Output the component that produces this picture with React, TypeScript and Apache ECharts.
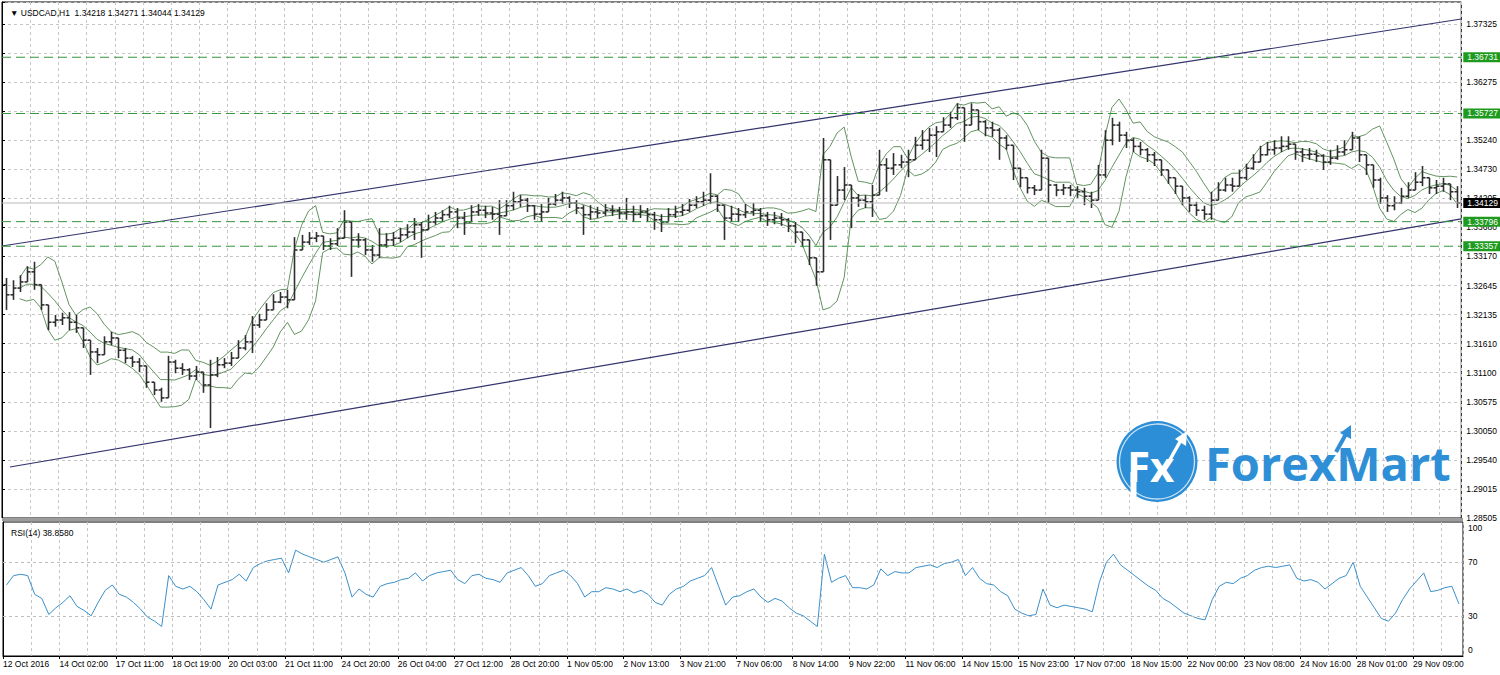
import React, { useEffect, useRef } from 'react';
import * as echarts from 'echarts';

// Prices are stored as pips above 1.3000 (value = 1.3 + pips / 10000), one bar per 4 hours.
const BASE = 1.3;
const PIP = 0.0001;
const FIRST_OPEN = 267;
const CLOSE = [
  249, 261, 272, 290, 267, 231, 200, 204, 208, 200,
  190, 168, 147, 142, 165, 172, 150, 136, 129, 122,
  93, 79, 65, 129, 118, 115, 104, 111, 88, 106,
  124, 127, 136, 154, 165, 195, 204, 222, 236, 245,
  240, 329, 343, 350, 354, 336, 340, 350, 379, 347,
  347, 329, 320, 338, 347, 350, 356, 361, 374, 365,
  379, 386, 392, 397, 386, 379, 397, 400, 395, 393,
  390, 408, 415, 418, 408, 393, 397, 411, 418, 422,
  413, 404, 392, 397, 395, 400, 399, 395, 397, 393,
  397, 392, 383, 379, 392, 397, 400, 409, 415, 418,
  425, 409, 386, 393, 392, 397, 400, 390, 383, 386,
  383, 372, 361, 347, 315, 290, 490, 409, 436, 445,
  422, 418, 415, 427, 481, 475, 481, 486, 490, 516,
  525, 534, 540, 552, 565, 583, 552, 579, 558, 547,
  543, 529, 516, 475, 458, 440, 436, 493, 445, 436,
  440, 436, 433, 425, 418, 463, 525, 552, 534, 525,
  514, 508, 499, 490, 472, 458, 443, 422, 409, 400,
  393, 418, 436, 445, 443, 458, 475, 486, 499, 508,
  511, 514, 518, 504, 499, 500, 497, 486, 493, 504,
  508, 529, 499, 481, 454, 422, 408, 413, 425, 436,
  450, 458, 440, 443, 447, 433, 413,
];
const HIGH = [
  279, 275, 284, 300, 308, 267, 225, 213, 217, 218,
  213, 190, 168, 154, 175, 183, 168, 154, 140, 136,
  115, 93, 83, 140, 133, 127, 118, 122, 111, 133,
  138, 136, 147, 168, 177, 211, 215, 234, 250, 254,
  258, 352, 356, 361, 361, 354, 350, 368, 400, 379,
  359, 350, 338, 368, 359, 361, 368, 375, 386, 379,
  392, 397, 400, 408, 404, 397, 409, 411, 408, 406,
  418, 418, 433, 427, 422, 409, 411, 422, 429, 433,
  425, 418, 409, 409, 406, 411, 409, 406, 422, 408,
  409, 404, 397, 393, 404, 408, 411, 420, 425, 433,
  466, 427, 409, 408, 404, 411, 413, 404, 397, 397,
  395, 386, 379, 361, 341, 308, 529, 458, 461, 477,
  436, 429, 427, 445, 508, 493, 502, 499, 508, 531,
  543, 547, 550, 566, 575, 591, 583, 591, 575, 561,
  558, 547, 534, 516, 475, 454, 445, 508, 481, 447,
  447, 445, 443, 440, 433, 481, 543, 565, 558, 540,
  529, 522, 511, 504, 490, 472, 458, 440, 425, 415,
  408, 433, 450, 458, 458, 472, 483, 500, 515, 522,
  525, 532, 532, 518, 511, 511, 508, 500, 508, 516,
  525, 540, 532, 499, 481, 458, 427, 425, 440, 450,
  468, 479, 458, 454, 458, 447, 443,
];
const LOW = [
  222, 240, 254, 275, 258, 222, 186, 192, 195, 186,
  181, 154, 106, 127, 142, 159, 136, 127, 120, 111,
  83, 70, 58, 65, 109, 106, 97, 97, 74, 11,
  102, 118, 122, 142, 150, 145, 190, 208, 222, 234,
  225, 240, 329, 338, 343, 329, 329, 336, 356, 281,
  333, 320, 308, 315, 333, 336, 343, 350, 347, 315,
  365, 374, 379, 386, 368, 356, 383, 390, 386, 383,
  356, 393, 400, 406, 397, 383, 379, 400, 408, 411,
  404, 393, 356, 383, 386, 390, 390, 384, 383, 379,
  386, 379, 365, 361, 379, 386, 390, 397, 404, 408,
  411, 397, 347, 379, 379, 386, 390, 379, 372, 375,
  372, 361, 341, 334, 302, 265, 290, 347, 409, 418,
  368, 406, 404, 388, 427, 433, 463, 475, 459, 493,
  508, 504, 495, 540, 547, 561, 522, 561, 543, 532,
  531, 490, 508, 454, 441, 430, 427, 454, 413, 425,
  427, 425, 422, 409, 404, 418, 458, 516, 522, 511,
  504, 498, 486, 479, 461, 447, 429, 409, 397, 390,
  383, 383, 422, 433, 433, 443, 454, 472, 486, 498,
  499, 504, 508, 490, 486, 490, 486, 472, 481, 490,
  498, 514, 486, 463, 440, 411, 397, 400, 411, 422,
  436, 443, 429, 429, 433, 418, 404,
];
const RSI = [
  53, 60, 61, 60, 46, 43, 31, 36, 40, 45,
  37, 34, 30, 40, 49, 53, 46, 44, 40, 35,
  29, 26, 22, 60, 52, 50, 52, 48, 42, 35,
  53, 55, 57, 61, 56, 66, 69, 71, 72, 73,
  62, 79, 76, 74, 72, 70, 72, 74, 62, 44,
  50, 46, 44, 52, 54, 55, 57, 58, 62, 56,
  60, 62, 63, 64, 57, 54, 60, 61, 58, 57,
  55, 62, 64, 66, 60, 52, 54, 60, 62, 64,
  60, 54, 44, 48, 48, 51, 50, 48, 50, 47,
  49, 46, 40, 38, 46, 50, 52, 56, 58, 60,
  66, 52, 38, 44, 45, 48, 50, 44, 40, 43,
  41, 36, 32, 30, 26, 22, 76, 55, 58, 60,
  51, 51, 50, 53, 65, 60, 63, 62, 62, 66,
  67, 68, 66, 69, 70, 72, 60, 66, 58, 54,
  53, 48, 45, 35, 32, 30, 31, 50, 38, 36,
  38, 37, 36, 35, 33, 55, 70, 76, 68, 64,
  60, 56, 52, 49, 43, 40, 36, 32, 30, 28,
  27, 42, 52, 55, 54, 58, 60, 64, 66, 67,
  66, 67, 68, 58, 56, 57, 55, 50, 54, 58,
  60, 70, 52, 44, 36, 28, 26, 32, 42, 50,
  56, 62, 48, 49, 51, 52, 38.858,
];
const X_LABELS = [
  '12 Oct 2016', '14 Oct 02:00', '17 Oct 11:00', '18 Oct 19:00', '20 Oct 03:00', '21 Oct 11:00',
  '24 Oct 20:00', '26 Oct 04:00', '27 Oct 12:00', '28 Oct 20:00', '1 Nov 05:00', '2 Nov 13:00',
  '3 Nov 21:00', '7 Nov 06:00', '8 Nov 14:00', '9 Nov 22:00', '11 Nov 06:00', '14 Nov 15:00',
  '15 Nov 23:00', '17 Nov 07:00', '18 Nov 15:00', '22 Nov 00:00', '23 Nov 08:00', '24 Nov 16:00',
  '28 Nov 01:00', '29 Nov 09:00',
];
// Ticks hidden by the level boxes in the reference are left empty.
const Y_LABELS = [
  '1.28505', '1.29015', '1.29540', '1.30050', '1.30575', '1.31100', '1.31610', '1.32135', '1.32645',
  '1.33170', '1.33680', '1.34205', '1.34730', '1.35240', '', '1.36275', '', '1.37325',
];
const RSI_LABELS = [30, 70, 100];
const RSI_MIN_LABEL = '0';
const RSI_LEVELS = [30, 70];
const LEVELS = [1.36731, 1.35727, 1.33796, 1.33357];
const LAST_PRICE = 1.34129;
const CHANNEL_UPPER = [[0, 1.33361], [828.3, 1.37414]];
const CHANNEL_LOWER = [[4.5, 1.29416], [828.3, 1.33844]];
const TITLE = '\u25BC USDCAD,H1  1.34218 1.34271 1.34044 1.34129';
const RSI_TITLE = 'RSI(14) 38.8580';

const HOURS_PER_BAR = 4;
const X_MAX = 828.3;
const X_STEP = 32;
const Y_MIN = 1.28505;
const Y_STEP = 0.0051882;
const Y_MAX = 1.377176;
const FONT = '"Liberation Sans", Arial, sans-serif';

const toPrice = (p: number) => +(BASE + p * PIP).toFixed(5);
const barHour = (k: number) => k * HOURS_PER_BAR + HOURS_PER_BAR / 2;

function buildBars() {
  return CLOSE.map((c, k) => {
    const o = k === 0 ? FIRST_OPEN : CLOSE[k - 1];
    const h = Math.max(HIGH[k], o, c);
    const l = Math.min(LOW[k], o, c);
    return [barHour(k), toPrice(o), toPrice(h), toPrice(l), toPrice(c)];
  });
}

function bollinger(period: number, dev: number) {
  const closes = CLOSE.map(toPrice);
  const up: number[][] = [];
  const mid: number[][] = [];
  const lo: number[][] = [];
  closes.forEach((_, k) => {
    const w = closes.slice(Math.max(0, k - period + 1), k + 1);
    if (w.length < 3) return;
    const m = w.reduce((a, b) => a + b, 0) / w.length;
    const sd = Math.sqrt(w.reduce((a, b) => a + (b - m) * (b - m), 0) / w.length);
    up.push([barHour(k), m + dev * sd]);
    mid.push([barHour(k), m]);
    lo.push([barHour(k), m - dev * sd]);
  });
  return { up, mid, lo };
}

const gridLine = { show: true, lineStyle: { color: '#c6c6c6', type: [3, 3] as any, width: 1 } };

export default function App() {
  const ref = useRef<HTMLDivElement>(null);
  useEffect(() => {
    document.body.style.margin = '0';
    if (!ref.current) return;
    const chart = echarts.init(ref.current, undefined, { renderer: 'svg' });
    const bars = buildBars();
    const bb = bollinger(5, 2);
    const bandStyle = { color: '#62935f', width: 1 };
    const boxLabel = (bg: string, text: string) => ({
      show: true,
      distance: 2,
      color: '#fff',
      backgroundColor: bg,
      fontSize: 8.5,
      fontFamily: FONT,
      lineHeight: 10,
      padding: [0, 8, 0, 4],
      formatter: () => text,
    });
    const levelSeries = (v: number, color: string, type: any, bg: string) => ({
      type: 'line', xAxisIndex: 0, yAxisIndex: 0, symbol: 'none', silent: true, z: 6,
      data: [[0, v], [X_MAX, v]],
      lineStyle: { color, type, width: 1 },
      endLabel: boxLabel(bg, v.toFixed(5)),
    });

    const option: any = {
      animation: false,
      backgroundColor: '#fff',
      textStyle: { fontFamily: FONT },
      title: [
        { text: TITLE, left: 5, top: 3, textStyle: { fontSize: 8.5, fontWeight: 'normal', color: '#000', fontFamily: FONT } },
        { text: RSI_TITLE, left: 6, top: 523, textStyle: { fontSize: 8.5, fontWeight: 'normal', color: '#000', fontFamily: FONT } },
      ],
      grid: [
        { left: 2, right: 37, top: 2, height: 516, show: true, borderColor: '#000', borderWidth: 1, backgroundColor: '#fff' },
        { left: 2, right: 37, top: 522, height: 134, show: true, borderColor: '#000', borderWidth: 1, backgroundColor: '#fff' },
      ],
      xAxis: [
        {
          type: 'value', gridIndex: 0, min: 0, max: X_MAX, interval: X_STEP,
          axisLine: { show: false }, axisTick: { show: false }, axisLabel: { show: false },
          splitLine: gridLine, minorTick: { show: false, splitNumber: 2 }, minorSplitLine: gridLine,
        },
        {
          type: 'value', gridIndex: 1, min: 0, max: X_MAX, interval: X_STEP,
          axisLine: { show: true, onZero: false, lineStyle: { color: '#000' } },
          axisTick: { show: true, length: 3, lineStyle: { color: '#000' } },
          axisLabel: {
            show: true, align: 'left', margin: 3, fontSize: 8.5, color: '#000', fontFamily: FONT,
            showMaxLabel: false,
            formatter: (v: number) => {
              const i = Math.round(v / X_STEP);
              return Math.abs(v - i * X_STEP) < 0.01 ? X_LABELS[i] ?? '' : '';
            },
          },
          splitLine: gridLine, minorTick: { show: false, splitNumber: 2 }, minorSplitLine: gridLine,
        },
      ],
      yAxis: [
        {
          type: 'value', gridIndex: 0, position: 'right', min: Y_MIN, max: Y_MAX, interval: Y_STEP,
          axisLine: { show: true, lineStyle: { color: '#000' } },
          axisTick: { show: true, length: 3, lineStyle: { color: '#000' } },
          axisLabel: {
            show: true, margin: 5, fontSize: 8.5, color: '#000', fontFamily: FONT,
            formatter: (v: number) => Y_LABELS[Math.round((v - Y_MIN) / Y_STEP)] ?? '',
          },
          splitLine: gridLine,
        },
        {
          type: 'value', gridIndex: 1, position: 'right', min: 0, max: 100, interval: 10,
          axisLine: { show: true, lineStyle: { color: '#000' } },
          axisTick: { show: false },
          axisLabel: {
            show: true, showMaxLabel: true, margin: 5, fontSize: 8.5, color: '#000', fontFamily: FONT,
            formatter: (v: number) => {
              const r = Math.round(v);
              if (!RSI_LABELS.includes(r)) return '';
              if (r === 100) return '{top|100}';
              return String(r);
            },
            rich: {
              top: { fontSize: 8.5, color: '#000', fontFamily: FONT, padding: [12, 0, 0, 0] },
            },
          },
          splitLine: { show: false },
        },
      ],
      series: [
        {
          name: 'upper', type: 'line', xAxisIndex: 0, yAxisIndex: 0, data: bb.up,
          symbol: 'none', lineStyle: bandStyle, z: 3,
        },
        {
          name: 'middle', type: 'line', xAxisIndex: 0, yAxisIndex: 0, data: bb.mid,
          symbol: 'none', lineStyle: bandStyle, z: 3,
        },
        {
          name: 'lower', type: 'line', xAxisIndex: 0, yAxisIndex: 0, data: bb.lo,
          symbol: 'none', lineStyle: bandStyle, z: 3,
        },
        {
          name: 'bars', type: 'custom', xAxisIndex: 0, yAxisIndex: 0, data: bars, z: 4,
          encode: { x: 0, y: [1, 2, 3, 4] },
          renderItem: (_params: any, api: any) => {
            const x = api.value(0);
            const o = api.coord([x, api.value(1)]);
            const h = api.coord([x, api.value(2)]);
            const l = api.coord([x, api.value(3)]);
            const c = api.coord([x, api.value(4)]);
            const xs = Math.round(o[0]) + 0.5;
            const style = { stroke: '#2e2e2e', lineWidth: 1.6 };
            return {
              type: 'group',
              children: [
                { type: 'line', shape: { x1: xs, y1: h[1], x2: xs, y2: l[1] }, style },
                { type: 'line', shape: { x1: xs - 3, y1: o[1], x2: xs, y2: o[1] }, style },
                { type: 'line', shape: { x1: xs, y1: c[1], x2: xs + 3, y2: c[1] }, style },
              ],
            };
          },
        },
        ...LEVELS.map((v) => levelSeries(v, '#35963a', [9, 5], '#1e9a1e')),
        levelSeries(LAST_PRICE, '#b9b9b9', 'solid', '#000'),
        {
          name: 'channelUpper', type: 'line', xAxisIndex: 0, yAxisIndex: 0, data: CHANNEL_UPPER,
          symbol: 'none', lineStyle: { color: '#33336e', width: 1.2 }, z: 5,
        },
        {
          name: 'channelLower', type: 'line', xAxisIndex: 0, yAxisIndex: 0, data: CHANNEL_LOWER,
          symbol: 'none', lineStyle: { color: '#33336e', width: 1.2 }, z: 5,
        },
        {
          name: 'RSI', type: 'line', xAxisIndex: 1, yAxisIndex: 1,
          data: RSI.map((v, k) => [barHour(k), v]),
          symbol: 'none', lineStyle: { color: '#3b8fc9', width: 1 },
          markLine: {
            silent: true, symbol: ['none', 'none'], animation: false, label: { show: false },
            lineStyle: { color: '#bdbdbd', type: [3, 3], width: 1 },
            data: RSI_LEVELS.map((v) => ({ yAxis: v })),
          },
        },
      ],
      graphic: [
        { type: 'rect', shape: { x: 2, y: 518, width: 1461, height: 3 }, style: { fill: '#9c9c9c' }, z: 50 },
        { type: 'text', x: 1468, y: 650, style: { text: RSI_MIN_LABEL, fill: '#000', font: `8.5px ${FONT}`, verticalAlign: 'middle' }, z: 70 },
        { type: 'circle', shape: { cx: 1157, cy: 461.5, r: 40.5 }, style: { fill: '#2b8ed6' }, z: 60 },
        { type: 'circle', shape: { cx: 1157, cy: 461.5, r: 37.5 }, style: { fill: 'none', stroke: 'rgba(255,255,255,0.75)', lineWidth: 1.3 }, z: 61 },
        { type: 'text', x: 1127, y: 465, style: { text: 'Fx', fill: '#fff', font: 'bold 42px "Open Sans"', verticalAlign: 'middle' }, z: 62 },
        { type: 'rect', shape: { x: 1130.5, y: 472, width: 6, height: 28 }, style: { fill: '#fff' }, z: 62 },
        { type: 'polyline', shape: { points: [[1163, 472], [1181, 440]] }, style: { stroke: '#fff', lineWidth: 3.5, fill: 'none' }, z: 62 },
        { type: 'polygon', shape: { points: [[1175, 439], [1187, 431], [1186, 446]] }, style: { fill: '#fff' }, z: 62 },
        { type: 'text', x: 1205, y: 463, style: { text: 'ForexMart', fill: '#2e8fd6', font: 'bold 47px "Open Sans"', verticalAlign: 'middle' }, z: 60 },
        { type: 'polyline', shape: { points: [[1336, 452], [1346, 434]] }, style: { stroke: '#2e8fd6', lineWidth: 4, fill: 'none' }, z: 60 },
        { type: 'polygon', shape: { points: [[1340, 433], [1351, 425], [1351, 439]] }, style: { fill: '#2e8fd6' }, z: 60 },
      ],
    };
    chart.setOption(option);
    return () => chart.dispose();
  }, []);
  return <div ref={ref} style={{ width: 1500, height: 675 }} />;
}
